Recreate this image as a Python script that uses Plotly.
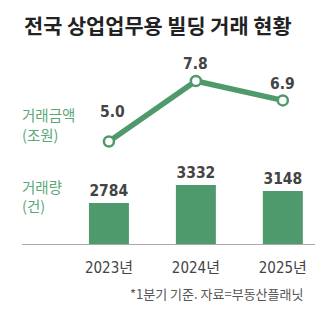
import plotly.graph_objects as go

years = ["2023년", "2024년", "2025년"]
amount = [5.0, 7.8, 6.9]          # 거래금액 (조원)
amount_labels = ["5.0", "7.8", "6.9"]
volume = [2784, 3332, 3148]       # 거래량 (건)

GREEN = "#4f9a6c"
LABEL_GREEN = "#5aa878"
NUM = "#444444"
NUMFONT = "DejaVu Sans Condensed, Liberation Sans Narrow, Noto Sans CJK KR"
KR = "Noto Sans CJK KR"

fig = go.Figure()

fig.add_trace(go.Bar(
    x=years, y=volume, marker=dict(color=GREEN, line=dict(width=0)),
    width=0.46, text=[f"<b>{v}</b>" for v in volume], textposition="outside",
    textfont=dict(family=NUMFONT, size=15.5, color=NUM),
    cliponaxis=False, xaxis="x", yaxis="y", showlegend=False,
))

fig.add_trace(go.Scatter(
    x=years, y=amount, mode="lines+markers",
    line=dict(color=GREEN, width=5.5),
    marker=dict(size=10, color="white", line=dict(color=GREEN, width=2.5)),
    cliponaxis=False, xaxis="x", yaxis="y2", showlegend=False,
))

annotations = [
    dict(text="<b>전국 상업업무용 빌딩 거래 현황</b>", x=22/330, y=(332-25)/332,
         xref="paper", yref="paper", xanchor="left", yanchor="middle",
         showarrow=False, font=dict(size=20.8, color="#222222", family=KR)),
    dict(text="거래금액", x=20/330, y=(332-114)/332, xref="paper", yref="paper",
         xanchor="left", yanchor="middle", showarrow=False,
         font=dict(size=14.5, color=LABEL_GREEN, family=KR)),
    dict(text="(조원)", x=20/330, y=(332-134)/332, xref="paper", yref="paper",
         xanchor="left", yanchor="middle", showarrow=False,
         font=dict(size=14.5, color=LABEL_GREEN, family=KR)),
    dict(text="거래량", x=20/330, y=(332-186)/332, xref="paper", yref="paper",
         xanchor="left", yanchor="middle", showarrow=False,
         font=dict(size=14.5, color=LABEL_GREEN, family=KR)),
    dict(text="(건)", x=20/330, y=(332-206)/332, xref="paper", yref="paper",
         xanchor="left", yanchor="middle", showarrow=False,
         font=dict(size=14.5, color=LABEL_GREEN, family=KR)),
    dict(text="*1분기 기준. 자료=부동산플래닛", x=305/330, y=(332-293)/332,
         xref="paper", yref="paper", xanchor="right", yanchor="middle",
         showarrow=False, font=dict(size=13, color="#555555", family=KR)),
]
shifts = [(4, 29), (0, 17), (0, 16)]
for yr, v, lab, (dx, dy) in zip(years, amount, amount_labels, shifts):
    annotations.append(dict(text=f"<b>{lab}</b>", x=yr, y=v, xref="x", yref="y2",
                            xshift=dx, yshift=dy, xanchor="center", yanchor="middle",
                            showarrow=False, font=dict(size=15.5, color=NUM, family=NUMFONT)))

fig.update_layout(
    width=330, height=332,
    margin=dict(l=0, r=0, t=0, b=0),
    paper_bgcolor="white", plot_bgcolor="white",
    font=dict(family=KR),
    xaxis=dict(domain=[22/330, 315/330], range=[-1.0, 2.37],
               showline=True, linecolor="#aaaaaa", linewidth=1,
               ticks="", showgrid=False, anchor="y",
               tickfont=dict(family=NUMFONT, size=15, color=NUM),
               ticklabelstandoff=10),
    yaxis=dict(domain=[0.265, 0.518], range=[1536, 4093],
               visible=False, showgrid=False),
    yaxis2=dict(domain=[0.55, 0.85], range=[4.633, 9.244],
                visible=False, showgrid=False),
    annotations=annotations,
)

fig.write_html("out.html")
